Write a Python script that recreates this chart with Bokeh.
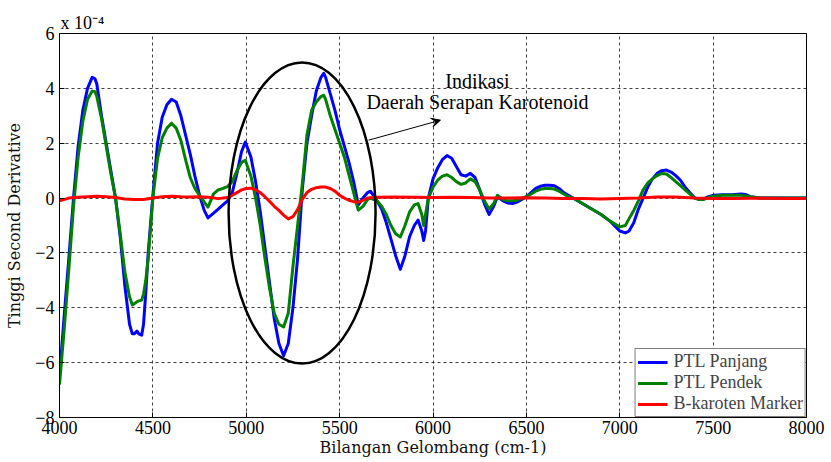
from bokeh.plotting import figure
from bokeh.models import (Range1d, FixedTicker, Label, Arrow, VeeHead, Legend,
                          LegendItem, BasicTickFormatter, Title)
from bokeh.embed import file_html
from bokeh.resources import INLINE

# ---- data (values in units of 1e-4) ----
wn = [4000, 4025, 4050, 4075, 4100, 4125, 4150, 4175, 4190, 4200,
      4225, 4250, 4275, 4300, 4325, 4350, 4375, 4390, 4400, 4415,
      4425, 4440, 4450, 4462, 4475, 4500, 4525, 4550, 4575, 4600,
      4625, 4650, 4675, 4700, 4725, 4750, 4775, 4795, 4825, 4850,
      4875, 4900, 4925, 4950, 4975, 4995, 5025, 5050, 5075, 5100,
      5125, 5150, 5175, 5200, 5225, 5250, 5275, 5300, 5325, 5350,
      5375, 5400, 5415, 5425, 5450, 5475, 5500, 5525, 5550, 5575,
      5600, 5625, 5650, 5665, 5700, 5725, 5750, 5775, 5800, 5825,
      5850, 5875, 5900, 5920, 5940, 5950, 5960, 5975, 6000, 6025,
      6050, 6075, 6100, 6125, 6150, 6175, 6200, 6225, 6250, 6275,
      6300, 6325, 6345, 6375, 6400, 6425, 6450, 6475, 6500, 6525,
      6550, 6575, 6600, 6625, 6650, 6675, 6700, 6725, 6750, 6800,
      6850, 6900, 6950, 7000, 7030, 7050, 7075, 7100, 7125, 7150,
      7175, 7200, 7225, 7250, 7275, 7300, 7325, 7350, 7375, 7400,
      7425, 7450, 7475, 7500, 7550, 7600, 7650, 7675, 7700, 7750,
      7800, 7850, 7900, 7950, 8000]

ptl_panjang = [-6.5, -4.3, -2.2, 0.0, 1.9, 3.2, 4.0, 4.4, 4.35, 4.15,
               3.0, 2.0, 1.0, 0.0, -1.4, -3.2, -4.6, -4.95, -4.95, -4.85,
               -4.95, -5.0, -4.6, -3.45, -2.0, 0.1, 2.0, 2.95, 3.4, 3.6,
               3.5, 3.0, 2.3, 1.6, 0.8, 0.1, -0.45, -0.72, -0.55, -0.4,
               -0.25, -0.1, 0.2, 0.9, 1.7, 2.04, 1.5, 0.6, -0.5, -1.8,
               -3.1, -4.4, -5.3, -5.75, -5.3, -4.0, -2.2, 0.3, 2.0, 3.0,
               3.9, 4.4, 4.55, 4.4, 3.8, 3.2, 2.5, 1.9, 1.3, 0.6,
               -0.25, 0.0, 0.2, 0.25, -0.1, -0.4, -0.9, -1.5, -2.1, -2.6,
               -2.1, -1.4, -1.0, -0.8, -1.2, -1.55, -1.2, 0.0, 0.7, 1.1,
               1.4, 1.55, 1.45, 1.15, 0.85, 0.8, 0.9, 0.75, 0.3, -0.2,
               -0.6, -0.3, 0.05, -0.1, -0.18, -0.2, -0.15, -0.05, 0.05, 0.2,
               0.35, 0.43, 0.47, 0.47, 0.45, 0.35, 0.2, 0.1, 0.0, -0.2,
               -0.4, -0.6, -0.85, -1.2, -1.27, -1.2, -0.9, -0.4, 0.0, 0.4,
               0.7, 0.9, 1.0, 1.02, 0.95, 0.82, 0.65, 0.4, 0.2, 0.02,
               -0.05, -0.03, 0.05, 0.1, 0.12, 0.12, 0.15, 0.13, 0.05, 0.0,
               0.0, 0.0, 0.0, 0.0, 0.0]

ptl_pendek = [-6.8, -4.8, -2.6, -0.3, 1.5, 2.8, 3.6, 3.9, 3.88, 3.7,
              2.9, 1.9, 0.9, 0.0, -1.3, -2.7, -3.6, -3.9, -3.85, -3.78,
              -3.75, -3.72, -3.5, -3.0, -2.2, 0.0, 1.45, 2.2, 2.55, 2.73,
              2.55, 2.1, 1.4, 0.75, 0.35, 0.1, -0.15, -0.33, 0.15, 0.3,
              0.35, 0.42, 0.6, 1.0, 1.3, 1.38, 0.8, 0.0, -1.0, -2.2,
              -3.3, -4.2, -4.6, -4.7, -4.2, -2.5, -1.0, 0.5, 2.3, 3.2,
              3.5, 3.7, 3.75, 3.6, 3.0, 2.5, 2.0, 1.5, 0.85, 0.2,
              -0.44, -0.3, -0.05, 0.0, -0.1, -0.3, -0.6, -1.0, -1.3, -1.42,
              -1.0, -0.5, -0.25, -0.2, -0.6, -1.0, -0.6, 0.0, 0.4, 0.65,
              0.8, 0.85, 0.75, 0.6, 0.5, 0.55, 0.7, 0.6, 0.3, -0.1,
              -0.4, -0.2, 0.1, -0.05, -0.1, -0.1, -0.08, 0.0, 0.05, 0.15,
              0.25, 0.32, 0.35, 0.35, 0.33, 0.25, 0.15, 0.05, 0.0, -0.2,
              -0.4, -0.6, -0.85, -1.05, -1.0, -0.75, -0.45, -0.1, 0.3, 0.55,
              0.7, 0.82, 0.9, 0.88, 0.75, 0.6, 0.45, 0.3, 0.15, 0.0,
              -0.05, -0.05, 0.02, 0.07, 0.1, 0.1, 0.1, 0.08, 0.05, 0.0,
              0.0, 0.0, 0.0, 0.0, 0.0]

wn_marker = [4000, 4050, 4100, 4150, 4200, 4250, 4300, 4350, 4400, 4450,
             4500, 4550, 4600, 4650, 4700, 4750, 4800, 4850, 4900,
             4925, 4950, 4975, 5000, 5025, 5050, 5075, 5100, 5125, 5150,
             5175, 5200, 5225, 5250, 5275, 5300, 5325, 5350, 5375, 5400,
             5425, 5450, 5475, 5500, 5525, 5550, 5575, 5600, 5625, 5650,
             5700, 5800, 5900, 6000, 6100, 6200, 6300, 6400, 6500, 6600,
             6700, 6800, 6900, 7000, 7100, 7200, 7300, 7400, 7500, 7600,
             7700, 7800, 7900, 8000]

b_karoten = [-0.1, 0.0, 0.03, 0.05, 0.07, 0.05, 0.02, -0.03, -0.05, -0.05,
             0.0, 0.05, 0.07, 0.05, 0.04, 0.05, 0.03, -0.02, 0.02,
             0.1, 0.2, 0.3, 0.35, 0.36, 0.3, 0.2, 0.05, -0.12, -0.3,
             -0.45, -0.62, -0.76, -0.68, -0.42, -0.05, 0.2, 0.32, 0.38, 0.4,
             0.4, 0.35, 0.25, 0.1, 0.0, -0.08, -0.13, -0.15, -0.08, 0.0,
             0.03, 0.04, 0.03, 0.02, 0.03, 0.02, 0.0, 0.0, 0.01, 0.0,
             -0.02, -0.02, -0.03, -0.02, 0.0, 0.04, 0.04, 0.0, -0.02, -0.02,
             -0.01, -0.01, -0.02, -0.02]

x_ticks = [4000, 4500, 5000, 5500, 6000, 6500, 7000, 7500, 8000]
y_ticks = [-8, -6, -4, -2, 0, 2, 4, 6]

SERIF = "'Liberation Serif', 'Times New Roman', serif"
LABEL_FONT = "'DejaVu Serif', serif"

p = figure(width=831, height=462,
           x_range=Range1d(4000, 8000), y_range=Range1d(-8, 6),
           output_backend="svg", toolbar_location=None,
           min_border_left=59, min_border_top=33, min_border_right=25,
           min_border_bottom=45, background_fill_color="white",
           border_fill_color="white")

p.outline_line_color = "black"
p.outline_line_width = 1

for ax in (p.xaxis[0], p.yaxis[0]):
    ax.axis_line_color = "black"
    ax.major_tick_line_color = "black"
    ax.major_tick_in = 5
    ax.major_tick_out = 0
    ax.minor_tick_line_color = None
    ax.major_label_text_font = SERIF
    ax.major_label_text_font_size = "18px"
    ax.major_label_text_color = "black"
    ax.axis_label_text_font = LABEL_FONT
    ax.axis_label_text_font_size = "16px"
    ax.axis_label_text_font_style = "normal"
    ax.axis_label_text_color = "#111111"

p.xaxis.ticker = FixedTicker(ticks=x_ticks)
p.yaxis.ticker = FixedTicker(ticks=y_ticks)
p.xaxis.formatter = BasicTickFormatter(use_scientific=False)
p.xaxis.major_label_standoff = 3
p.yaxis.major_label_standoff = 5
p.xaxis.axis_label = "Bilangan Gelombang (cm-1)"
p.yaxis.axis_label = "Tinggi Second Derivative"
p.xaxis.axis_label_standoff = 1
p.yaxis.axis_label_standoff = 8

for g in (p.xgrid[0], p.ygrid[0]):
    g.grid_line_color = "black"
    g.grid_line_alpha = 0.75
    g.grid_line_dash = "3 3"
    g.grid_line_width = 1
p.xgrid.ticker = FixedTicker(ticks=x_ticks)
p.ygrid.ticker = FixedTicker(ticks=y_ticks)

r_blue = p.line(wn, ptl_panjang, line_color="#0000FF", line_width=3, line_join="round")
r_green = p.line(wn, ptl_pendek, line_color="#008000", line_width=3, line_join="round")
r_red = p.line(wn_marker, b_karoten, line_color="#FF0000", line_width=3, line_join="round")

# ellipse marking the carotenoid region
p.ellipse(x=[5299], y=[-0.545], width=787, height=10.98, fill_color=None,
          line_color="black", line_width=2.5)

p.add_layout(Arrow(x_start=5655, y_start=2.11, x_end=6040, y_end=2.84,
                   line_color="black", line_width=1,
                   end=VeeHead(size=9, fill_color="black", line_color="black")))

p.add_layout(Label(x=6238, y=3.855, text="Indikasi", text_align="center",
                   text_font=SERIF, text_font_size="20px", text_color="black"))
p.add_layout(Label(x=6238, y=3.09, text="Daerah Serapan Karotenoid", text_align="center",
                   text_font=SERIF, text_font_size="20px", text_color="black"))

# exponent label above the axes
p.add_layout(Title(text="x 10\u207b\u2074", align="left", offset=1, standoff=1,
                   text_font=SERIF, text_font_size="18px", text_font_style="normal",
                   text_color="black"), "above")

legend = Legend(items=[LegendItem(label="PTL Panjang", renderers=[r_blue]),
                       LegendItem(label="PTL Pendek", renderers=[r_green]),
                       LegendItem(label="B-karoten Marker", renderers=[r_red])],
                location="bottom_right", margin=0, padding=2, spacing=0,
                glyph_width=30, glyph_height=18, label_height=18, label_standoff=6,
                label_text_font=SERIF, label_text_font_size="18px",
                border_line_color="black", border_line_width=1,
                background_fill_color="white", background_fill_alpha=1)
p.add_layout(legend)

open("out.html", "w").write(file_html(p, INLINE))
